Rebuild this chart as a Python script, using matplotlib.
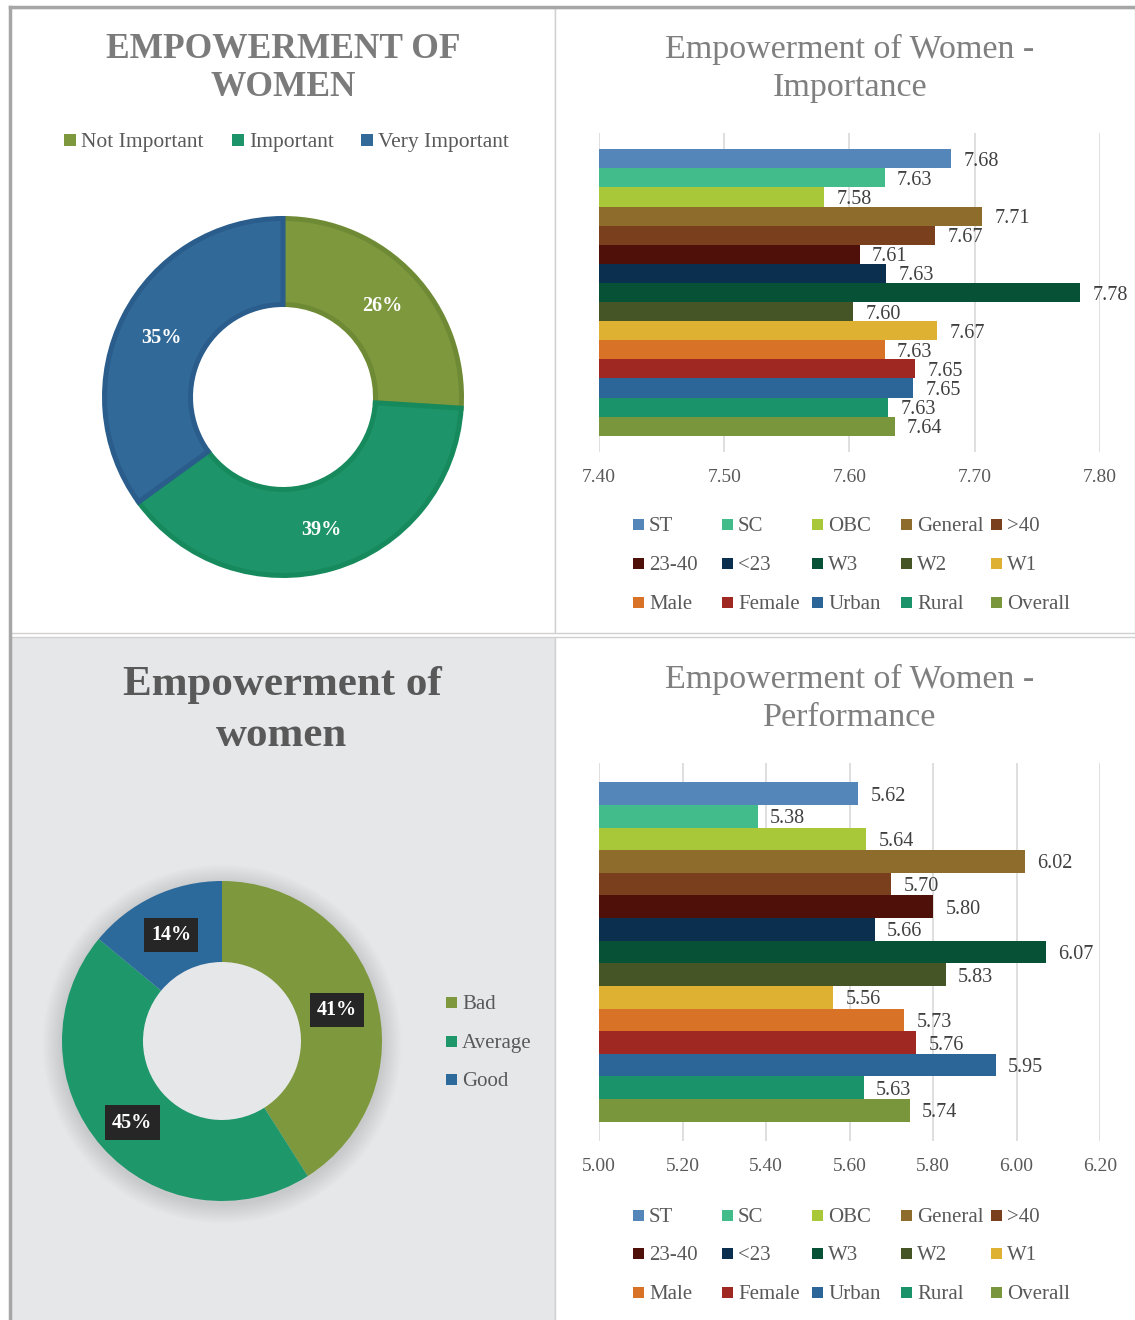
import numpy as np
import matplotlib
matplotlib.use("Agg")
import matplotlib.pyplot as plt
from matplotlib.patches import Rectangle, Wedge

plt.rcParams['font.family'] = ['Liberation Serif', 'DejaVu Serif']

W, H = 1135, 1320

# ---- data ----
imp_labels = ["Not Important", "Important", "Very Important"]
imp_share = [26, 39, 35]
imp_fill = ["#7d983d", "#1e946a", "#316a98"]
imp_edge = ["#6f8a35", "#178a5d", "#2a5d8b"]

perf_labels = ["Bad", "Average", "Good"]
perf_share = [41, 45, 14]
perf_fill = ["#7d983d", "#1e976b", "#2c6a9c"]

groups = ["ST", "SC", "OBC", "General", ">40", "23-40", "<23", "W3", "W2", "W1",
          "Male", "Female", "Urban", "Rural", "Overall"]
group_colors = ["#5586ba", "#41bc8a", "#a8c83a", "#8e6c2c", "#7a3f1c", "#4e1008",
                "#0a2f4f", "#075236", "#455526", "#deb132", "#d77227", "#a02823",
                "#2c6699", "#1b936a", "#7a963d"]
importance = [7.681, 7.628, 7.580, 7.706, 7.668, 7.608, 7.629, 7.784, 7.603, 7.670,
              7.628, 7.652, 7.651, 7.631, 7.636]
performance = [5.62, 5.38, 5.64, 6.02, 5.70, 5.80, 5.66, 6.07, 5.83, 5.56,
               5.73, 5.76, 5.95, 5.634, 5.744]
imp_ticks = [7.40, 7.50, 7.60, 7.70, 7.80]
perf_ticks = [5.00, 5.20, 5.40, 5.60, 5.80, 6.00, 6.20]

GREY_TXT = "#595959"

fig = plt.figure(figsize=(W / 100, H / 100), dpi=100)


def frac(x0, y0, x1, y1):
    return [x0 / W, 1 - y1 / H, (x1 - x0) / W, (y1 - y0) / H]


def panel(x0, y0, x1, y1, face="white", edge="#d0d0d0", lw=1.0):
    fig.add_artist(Rectangle((x0 / W, 1 - y1 / H), (x1 - x0) / W, (y1 - y0) / H,
                             transform=fig.transFigure, facecolor=face,
                             edgecolor=edge, linewidth=lw, zorder=-10))


def ftext(x, y, s, **kw):
    fig.text(x / W, 1 - y / H, s, **kw)


def square_legend(labels, colors, xs, ys, size=11, fontsize=15):
    for lab, col, x, y in zip(labels, colors, xs, ys):
        fig.add_artist(Rectangle((x / W, 1 - (y + size / 2) / H), size / W, size / H,
                                 transform=fig.transFigure, facecolor=col,
                                 linewidth=0))
        ftext(x + size + 5, y, lab, ha="left", va="center_baseline", fontsize=fontsize,
              color=GREY_TXT)


# ---- panels ----
panel(10, 8, 555, 633)
panel(555, 8, 1135, 633)
panel(10, 637, 555, 1322, face="#e6e7e9")
panel(555, 637, 1137, 1322)
fig.add_artist(plt.Line2D([10 / W, 1], [1 - 7 / H, 1 - 7 / H], transform=fig.transFigure,
                          color="#a6a6a6", lw=2.5))
fig.add_artist(plt.Line2D([10 / W, 10 / W], [0, 1 - 7 / H], transform=fig.transFigure,
                          color="#a6a6a6", lw=2.5))

# ---- top-left donut ----
ftext(283, 45, "EMPOWERMENT OF", ha="center", va="center_baseline", fontsize=25.5,
      fontweight="bold", color="#7b7b7b")
ftext(283, 83, "WOMEN", ha="center", va="center_baseline", fontsize=25.5,
      fontweight="bold", color="#7b7b7b")
square_legend(imp_labels, imp_fill, [64, 232, 361], [140, 140, 140], size=12, fontsize=15.5)

ax1 = fig.add_axes(frac(283 - 200, 397 - 200, 283 + 200, 397 + 200))
r_out, r_in = 178.5, 92.5
wedges, _, pcts = ax1.pie(imp_share, colors=imp_fill, startangle=90, counterclock=False,
                          radius=r_out, autopct="%d%%", pctdistance=136 / r_out,
                          wedgeprops=dict(width=r_out - r_in, linewidth=3.6),
                          textprops=dict(color="white", fontsize=14.5, fontweight="bold"))
for w, ec in zip(wedges, imp_edge):
    w.set_edgecolor(ec)
for t in pcts:
    t.set_va("center_baseline")
ax1.set_xlim(-200, 200)
ax1.set_ylim(-200, 200)
ax1.set_aspect("equal")
ax1.axis("off")

# ---- bottom-left donut ----
ftext(282, 681, "Empowerment of", ha="center", va="center_baseline", fontsize=31,
      fontweight="bold", color=GREY_TXT)
ftext(282, 731, "women", ha="center", va="center_baseline", fontsize=31,
      fontweight="bold", color=GREY_TXT)
square_legend(perf_labels, perf_fill, [446, 446, 446], [1002, 1041, 1079],
              size=11, fontsize=15)

ax3 = fig.add_axes(frac(222 - 200, 1041 - 200, 222 + 200, 1041 + 200))
R_out, R_in = 160, 79
for k in range(1, 16):
    ax3.add_patch(Wedge((0, -3), R_out + k * 1.3, 0, 360, width=R_out + k * 1.3 - R_in - 6,
                        facecolor="black", alpha=0.008, linewidth=0, zorder=0))
w3, _, pcts3 = ax3.pie(perf_share, colors=perf_fill, startangle=90, counterclock=False,
                       radius=R_out, autopct="%d%%", pctdistance=119.5 / R_out,
                       wedgeprops=dict(width=R_out - R_in, linewidth=0),
                       textprops=dict(color="white", fontsize=14.5, fontweight="bold"))
for t in pcts3:
    t.set_va("center_baseline")
    t.set_bbox(dict(boxstyle="square,pad=0.35", facecolor="#262626", edgecolor="none"))
ax3.set_xlim(-200, 200)
ax3.set_ylim(-200, 200)
ax3.set_aspect("equal")
ax3.axis("off")


# ---- bar charts ----
def bar_chart(box, values, ticks, title_y, legend_rows):
    ax = fig.add_axes(frac(*box))
    y = np.arange(len(groups))
    ax.barh(y, values, height=1.0, color=group_colors, zorder=2)
    for yi, v in zip(y, values):
        ax.annotate(f"{v:.2f}", (v, yi), xytext=(9, 0), textcoords="offset points",
                    va="center_baseline", ha="left", fontsize=14.5, color="#404040")
    ax.set_xlim(ticks[0], ticks[-1])
    pad = 0.85
    ax.set_ylim(len(groups) - 0.5 + pad, -0.5 - pad)
    ax.set_xticks(ticks)
    ax.set_xticklabels([f"{t:.2f}" for t in ticks])
    ax.set_yticks([])
    ax.tick_params(axis="x", length=0, pad=12, labelsize=14, labelcolor=GREY_TXT)
    ax.grid(axis="x", color="#d9d9d9", linewidth=1.2, zorder=0)
    ax.set_axisbelow(True)
    for s in ax.spines.values():
        s.set_visible(False)
    ftext(850, title_y, "Empowerment of Women -", ha="center", va="center_baseline",
          fontsize=24.5, color="#7f7f7f")
    xs = [633, 722, 812, 901, 991]
    lx = [xs[i % 5] for i in range(len(groups))]
    ly = [legend_rows[i // 5] for i in range(len(groups))]
    square_legend(groups, group_colors, lx, ly, size=11, fontsize=15)
    return ax


bar_chart((599, 133, 1100, 452), importance, imp_ticks, 46, [524, 563, 602])
ftext(850, 84, "Importance", ha="center", va="center_baseline", fontsize=24.5, color="#7f7f7f")
bar_chart((599, 763, 1100, 1141), performance, perf_ticks, 676, [1215, 1253, 1292])
ftext(850, 714, "Performance", ha="center", va="center_baseline", fontsize=24.5, color="#7f7f7f")

fig.savefig("out.png", dpi=100)
